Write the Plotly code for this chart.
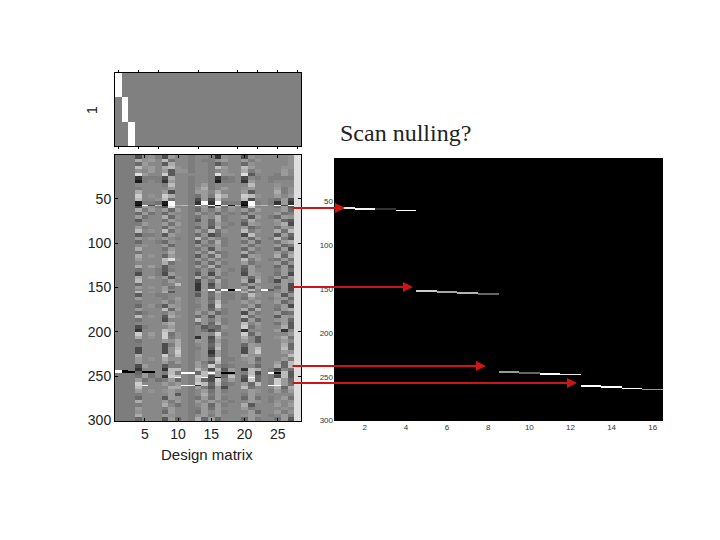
"""
Design matrix figure with the scan nulling regressors next to it.
"""

import numpy as np
import plotly.graph_objects as go

W = 720
H = 540

# Each string is one band of 4 scans, hex digit = grey level (0 black, f white)
# Groups: intercepts | c4-7 | c8-12 | c13-19 | c20-24 | c25-27 | c28
DESIGN_BANDS = [
    "777 3897 3a887 8872988 39888 889 e",
    "777 b9a8 c6887 8779a88 a7988 889 e",
    "777 5a88 4b887 8874788 59888 889 e",
    "777 c9a8 bc987 887ca88 ca888 899 e",
    "777 98a8 a4997 8878988 b7988 8a8 e",
    "777 ea88 d4888 887e998 e4888 7a8 e",
    "777 2777 3b887 8872678 38787 777 e",
    "777 1787 2a887 8871778 2a887 888 e",
    "777 8888 7c887 8a78888 8c888 988 e",
    "777 7888 8a887 9b78a88 9a888 a79 e",
    "777 b888 a3887 aa8b888 a4888 b79 e",
    "777 d898 db887 6a7db88 dc988 a8a e",
    "777 c889 c6887 3a3c888 c3887 6a3 e",
    "777 1776 1f887 2f2f677 1f787 2a2 e",
    "777 3a97 4e887 6a3c6a8 3d888 6a4 e",
    "777 b7a8 a5a87 597a798 a6a88 8a5 e",
    "777 5a68 59887 a785878 59888 a67 e",
    "777 a688 b5987 698b788 a4a87 5a9 e",
    "777 4888 6a887 495b788 6b888 a54 e",
    "777 7a88 a6a87 895a878 4a988 9b3 e",
    "777 a788 5a887 594b788 a5788 6a9 e",
    "777 c898 c6987 a7c6988 c7988 b6c e",
    "777 4778 4a887 5935888 3c888 4a5 e",
    "777 a898 a8787 c7a8788 a5a87 c74 e",
    "777 5887 59887 496b788 6a588 6ab e",
    "777 8988 a5887 a78a788 a6988 a57 e",
    "777 b888 6a887 694a888 5a788 5a3 e",
    "777 6888 8b887 a7b6788 b6888 a7a e",
    "777 b898 5a887 495b788 4a988 b5b e",
    "777 a888 ce987 a7a7888 c7a87 6a6 e",
    "777 8888 b6887 595a788 a6888 a59 e",
    "777 b8a8 48887 a7b5888 5a788 5a4 e",
    "777 6887 47887 696a878 4a888 7a6 e",
    "777 3887 3a887 493a788 3a988 6a3 e",
    "777 b8a8 a4987 b7a6888 a5a87 a5a e",
    "777 c888 7a887 396b788 b3b87 3a9 e",
    "777 5888 78c87 293a788 6a888 8a3 e",
    "777 a898 a6887 294a788 a4a88 5a3 e",
    "777 c898 b4887 695c788 b6888 8a5 e",
    "777 4887 78887 496a778 7c988 a49 e",
    "777 a888 78a87 895a778 6a887 9a5 e",
    "777 7888 a7987 896c788 a8a88 a58 e",
    "777 5897 4a987 794d888 7a588 7a3 e",
    "777 a888 c5a87 895a788 b5b88 6ab e",
    "777 5788 7a887 a7a5788 3a788 a56 e",
    "777 c898 4b987 594a888 c6988 4a9 e",
    "777 6888 38887 c97a788 4a588 9a5 e",
    "777 8888 ab887 595b788 c8a88 6a4 e",
    "777 3788 8a887 8465988 d6988 8b4 e",
    "777 2888 cb887 8636888 28888 a28 e",
    "777 d8a8 d6987 898d788 d5a88 88a e",
    "777 b898 d7987 293b888 b8488 9b6 e",
    "777 6888 a9b87 a94a788 a8488 8a8 e",
    "777 7888 37b87 895b788 5a988 8b5 e",
    "777 3888 39c87 794c788 3ac88 8c5 e",
    "777 3888 39d87 892a788 3ad88 8a9 e",
    "777 b888 d8c87 893a788 b9988 88c e",
    "777 a898 b9987 897d778 9a588 8a7 e",
    "777 a888 a7a87 a74c788 8a788 a5c e",
    "777 3a88 47787 a8d8678 88588 b5c e",
    "777 2888 2cc87 c93c4a8 2cb87 386 e",
    "777 5a68 7c787 5c8a5a8 7c387 5c4 e",
    "777 6a68 2dc87 dc3a5c8 4d587 3c4 e",
    "777 a686 7a587 c53d7a8 3d587 da5 e",
    "777 d888 a8a87 dc5c678 a5c87 da6 e",
    "777 c888 8bb87 a74a388 c6888 b5b e",
    "777 a898 9a887 8a6a788 8a987 a7a e",
    "777 7888 8a487 8b7a888 7a888 888 e",
    "777 5888 4a987 6a6a788 5a687 8a6 e",
    "777 b888 a7a87 a8a8878 8a987 989 e",
    "777 7888 b8687 8a5a788 b4888 a8a e",
    "777 a888 7a887 7a6a888 a7888 898 e",
    "777 9888 5a887 6a8a788 8a588 a79 e",
    "777 b888 a9887 9a7a888 9a987 8a7 e",
    "777 5888 4a587 b5a5888 5a788 6a4 e",
]

# Single scans that spike, "." keeps the band value
SPIKE_SCANS = [57, 152, 244, 245, 246, 251, 260]
SPIKE_LEVELS = [
    "777 0f3c 0fbc8 f8f1e1c 0fbc8 f3f e",
    "777 8888 a8887 2af5f0f 8c8f4 8a3 e",
    "f0. .... ..... ....... ..... ... .",
    "f00 .00. ..... ....... ..... ... .",
    "... .... ...ff ..f.00. ....f 0.. .",
    "... .... ..f.. .f.0... .f... ... .",
    "... .f.. ...ff 2...... ....f f.. .",
]

# Top strip: three intercept rows over 28 columns
SESSION_COLUMNS = [1, 2, 3]
SESSION_TICKS = [1, 4, 7, 13, 19, 22, 25, 28]

# Right image: one regressor per column, one scan each
NULL_SCANS = [57, 58, 58, 60, 152, 153, 154, 155, 244, 245, 246, 247, 260, 261, 263, 264]
NULL_LEVELS = [0.9, 0.95, 0.2, 1.0, 0.8, 0.65, 0.7, 0.4, 0.6, 0.4, 1.0, 0.9, 1.0, 1.0, 1.0, 0.6]

DESIGN_X_TICKS = [5, 10, 15, 20, 25]
SCAN_TICKS = [50, 100, 150, 200, 250, 300]
NULL_X_TICKS = [2, 4, 6, 8, 10, 12, 14, 16]

# Arrows: (start x, tip x, y) in pixels
ARROWS = [(291, 345, 208), (291, 413, 287), (291, 486, 366), (291, 577, 383)]

PLAIN_GREY = [[0, "#000000"], [1, "#ffffff"]]
# mid greys are squeezed together, only the extremes reach black and white
SOFT_GREY = [
    [0, "#000000"], [0.07, "#1c1c1c"], [0.2, "#4c4c4c"], [0.33, "#686868"], [0.47, "#7e7e7e"],
    [0.67, "#9c9c9c"], [0.8, "#bcbcbc"], [0.93, "#dcdcdc"], [1, "#ffffff"],
]


def px_x(x):
    return x / W


def px_y(y):
    return 1 - y / H


# build the matrices
design = np.array([[int(c, 16) for c in row.replace(" ", "")] for row in DESIGN_BANDS], dtype=float)
design = np.repeat(design, 4, axis=0)
# two rows each, a single one can fall between pixels (300 rows in 266 px)
for scan, levels in zip(SPIKE_SCANS, SPIKE_LEVELS):
    for col, c in enumerate(levels.replace(" ", "")):
        if c != ".":
            design[scan - 1:scan + 1, col] = int(c, 16)

sessions = np.full((3, 28), 0.5)
for i, col in enumerate(SESSION_COLUMNS):
    sessions[i, col - 1] = 1.0

nulling = np.zeros((300, 16))
for col, (scan, level) in enumerate(zip(NULL_SCANS, NULL_LEVELS)):
    nulling[scan - 1:scan + 1, col] = level

fig = go.Figure()

fig.add_trace(go.Heatmap(
    z=sessions, x=list(range(1, 29)), y=[1, 2, 3],
    colorscale=PLAIN_GREY, zmin=0, zmax=1, showscale=False,
    xaxis="x", yaxis="y"
))
fig.add_trace(go.Heatmap(
    z=design, x=list(range(1, 29)), y=list(range(1, 301)),
    colorscale=SOFT_GREY, zmin=0, zmax=15, showscale=False,
    xaxis="x2", yaxis="y2"
))
fig.add_trace(go.Heatmap(
    z=nulling, x=list(range(1, 17)), y=list(range(1, 301)),
    colorscale=PLAIN_GREY, zmin=0, zmax=1, showscale=False,
    xaxis="x3", yaxis="y3"
))

frame = dict(showgrid=False, zeroline=False, showline=True, linecolor="black", linewidth=1, automargin=False)
label_font = dict(family="Liberation Sans", size=14, color="#222222")
small_font = dict(family="Liberation Sans", size=8, color="#333333")

fig.update_layout(
    width=W,
    height=H,
    margin=dict(l=0, r=0, t=0, b=0),
    paper_bgcolor="white",
    plot_bgcolor="white",
    showlegend=False,
    xaxis=dict(
        domain=[px_x(115), px_x(301)], range=[0.5, 28.5], anchor="y",
        tickvals=SESSION_TICKS, ticks="outside", ticklen=2, tickcolor="black",
        showticklabels=False, mirror="ticks", **frame
    ),
    yaxis=dict(
        domain=[px_y(146), px_y(73)], range=[3.5, 0.5], anchor="x",
        tickvals=[], mirror=True, **frame
    ),
    xaxis2=dict(
        domain=[px_x(115), px_x(301)], range=[0.5, 28.5], anchor="y2",
        tickvals=DESIGN_X_TICKS, ticks="inside", ticklen=3, tickcolor="black",
        tickfont=label_font, mirror="ticks", **frame
    ),
    yaxis2=dict(
        domain=[px_y(421), px_y(155)], range=[300.5, 0.5], anchor="x2",
        tickvals=SCAN_TICKS, ticks="inside", ticklen=3, tickcolor="black",
        tickfont=label_font, mirror="ticks", **frame
    ),
    xaxis3=dict(
        domain=[px_x(334), px_x(663)], range=[0.5, 16.5], anchor="y3",
        tickvals=NULL_X_TICKS, ticks="", showgrid=False, zeroline=False,
        tickfont=small_font, automargin=False
    ),
    yaxis3=dict(
        domain=[px_y(421), px_y(158)], range=[300.5, 0.5], anchor="x3",
        tickvals=SCAN_TICKS, ticks="", showgrid=False, zeroline=False,
        tickfont=small_font, automargin=False
    ),
)

fig.add_annotation(
    text="1", x=px_x(92), y=px_y(110), xref="paper", yref="paper",
    xanchor="center", yanchor="middle",
    textangle=-90, showarrow=False, font=label_font
)
fig.add_annotation(
    text="Design matrix", x=px_x(207), y=px_y(454), xref="paper", yref="paper",
    xanchor="center", yanchor="middle",
    showarrow=False, font=dict(family="Liberation Sans", size=15, color="#222222")
)
fig.add_annotation(
    text="Scan nulling?", x=px_x(338), y=px_y(133), xref="paper", yref="paper",
    xanchor="left", yanchor="middle", showarrow=False,
    font=dict(family="Liberation Serif", size=24, color="#222222")
)

for start, tip, y in ARROWS:
    fig.add_annotation(
        x=px_x(tip), y=px_y(y), xref="paper", yref="paper",
        ax=start - tip, ay=0, axref="pixel", ayref="pixel", text="",
        showarrow=True, arrowhead=2, arrowsize=1, arrowwidth=2, arrowcolor="#cc1515"
    )

fig.write_html(
    "out.html",
    config={"displayModeBar": False},
    post_script="document.body.style.margin = '0';",
)
